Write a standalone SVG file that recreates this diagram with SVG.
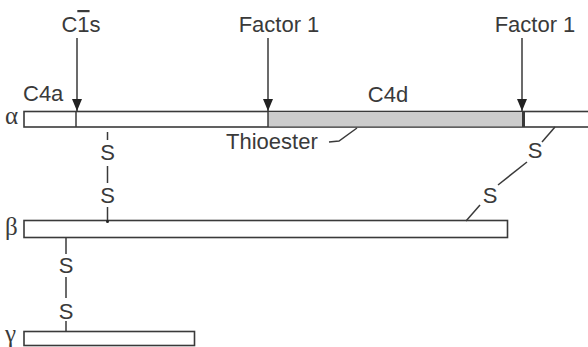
<svg xmlns="http://www.w3.org/2000/svg" width="588" height="347" viewBox="0 0 588 347">
<defs>
<style>
.bar{fill:#fff;stroke:#3a3a3a;stroke-width:1.6}
.ln{stroke:#3a3a3a;stroke-width:1.5;fill:none}
.t{font-family:"Liberation Sans",Arial,sans-serif;font-size:22px;fill:#3a3a3a}
.g{font-family:"Liberation Serif","Times New Roman",serif;font-size:25px;fill:#3a3a3a}
</style>
<marker id="ah" markerWidth="12" markerHeight="10" refX="12" refY="5" orient="auto" markerUnits="userSpaceOnUse" viewBox="0 0 12 10">
<path d="M0,0 L12,5 L0,10 Z" fill="#222"/>
</marker>
</defs>
<rect width="588" height="347" fill="#fff"/>

<g id="alpha">
<rect class="bar" x="24" y="111.5" width="566" height="15.5"/>
<rect x="268" y="112.3" width="255" height="14" fill="#cccccc"/>
<line class="ln" x1="76" y1="111.5" x2="76" y2="127"/>
<line class="ln" x1="268" y1="111.5" x2="268" y2="127"/>
<line x1="523.5" y1="111.5" x2="523.5" y2="127" stroke="#3a3a3a" stroke-width="3"/>
<text class="g" x="5" y="124">α</text>
<text class="t" x="23" y="101">C4a</text>
<text class="t" x="388" y="102" text-anchor="middle">C4d</text>
</g>

<g id="beta">
<rect class="bar" x="24" y="220.5" width="483.5" height="17"/>
<text class="g" x="5" y="235">β</text>
</g>

<g id="gamma">
<rect class="bar" x="24" y="331.5" width="170.5" height="14"/>
<text class="g" x="5" y="342">γ</text>
</g>

<g id="labels">
<text class="t" x="81" y="32" text-anchor="middle">C<tspan text-decoration="overline">1</tspan>s</text>
<text class="t" x="279" y="32" text-anchor="middle">Factor 1</text>
<text class="t" x="535" y="32" text-anchor="middle">Factor 1</text>
<text class="t" x="226" y="149">Thioester</text>
</g>

<g id="connectors">
<line class="ln" x1="77" y1="38" x2="77" y2="111" marker-end="url(#ah)"/>
<line class="ln" x1="268" y1="38" x2="268" y2="111" marker-end="url(#ah)"/>
<line class="ln" x1="522" y1="38" x2="522" y2="111" marker-end="url(#ah)"/>
<polyline class="ln" points="329,142 339,141 357,128"/>
<!-- alpha-beta disulfide -->
<line class="ln" x1="107.5" y1="132" x2="107.5" y2="140"/>
<text class="t" x="107.5" y="160" text-anchor="middle">S</text>
<line class="ln" x1="107.5" y1="166" x2="107.5" y2="183"/>
<text class="t" x="107.5" y="203" text-anchor="middle">S</text>
<line class="ln" x1="107.5" y1="207" x2="107.5" y2="221"/>
<circle cx="107.5" cy="221.5" r="1.5" fill="#222"/>
<!-- beta-gamma disulfide -->
<line class="ln" x1="66" y1="238" x2="66" y2="254"/>
<text class="t" x="66" y="273" text-anchor="middle">S</text>
<line class="ln" x1="66" y1="277" x2="66" y2="298"/>
<text class="t" x="66" y="319" text-anchor="middle">S</text>
<line class="ln" x1="66" y1="321" x2="66" y2="331.5"/>
<!-- diagonal disulfide -->
<line class="ln" x1="555" y1="127" x2="542" y2="142"/>
<text class="t" x="535" y="158" text-anchor="middle">S</text>
<line class="ln" x1="527" y1="162" x2="498" y2="185"/>
<text class="t" x="490" y="203" text-anchor="middle">S</text>
<line class="ln" x1="480" y1="205" x2="466" y2="221"/>
</g>
</svg>
